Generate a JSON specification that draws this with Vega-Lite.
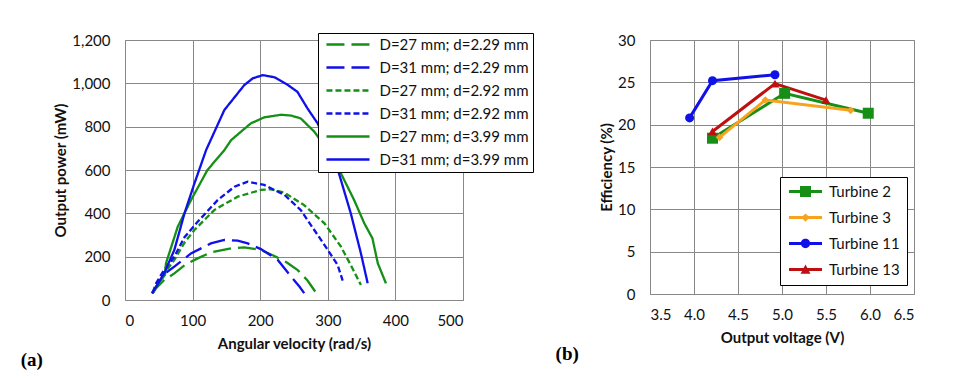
{
  "$schema": "https://vega.github.io/schema/vega-lite/v6.json",
  "padding": {"left": 20, "top": 32, "right": 5, "bottom": 5},
  "spacing": 21,
  "background": "white",
  "resolve": {"scale": {"color": "independent", "strokeDash": "independent"}, "legend": {"color": "independent", "strokeDash": "independent"}},
  "config": {
    "font": "Lato",
    "view": {"stroke": "#888", "strokeWidth": 1},
    "axis": {
      "grid": true, "gridColor": "#888", "gridOpacity": 1, "gridWidth": 1,
      "domain": false, "ticks": false,
      "labelFontSize": 15, "labelColor": "#111", "labelFont": "Lato",
      "titleFontSize": 15, "titleFontWeight": "bold", "titleColor": "#111", "titleFont": "Lato"
    },
    "axisX": {"labelPadding": 13, "titlePadding": 8},
    "axisY": {"labelPadding": 15, "titlePadding": 3}
  },
  "hconcat": [
    {
      "width": 338,
      "height": 260,
      "title": {"text": "(a)", "orient": "bottom", "anchor": "start", "font": "Liberation Serif", "fontSize": 19, "fontWeight": "bold", "color": "#000", "dx": -33, "offset": 0},
      "data": {"values": [
        {"s": "D=27 mm; d=2.29 mm", "w": 40, "p": 31},
        {"s": "D=27 mm; d=2.29 mm", "w": 43.5, "p": 46},
        {"s": "D=27 mm; d=2.29 mm", "w": 58, "p": 92},
        {"s": "D=27 mm; d=2.29 mm", "w": 73, "p": 123},
        {"s": "D=27 mm; d=2.29 mm", "w": 90, "p": 165},
        {"s": "D=27 mm; d=2.29 mm", "w": 107.5, "p": 192},
        {"s": "D=27 mm; d=2.29 mm", "w": 127, "p": 220},
        {"s": "D=27 mm; d=2.29 mm", "w": 157, "p": 238},
        {"s": "D=27 mm; d=2.29 mm", "w": 176.6, "p": 243},
        {"s": "D=27 mm; d=2.29 mm", "w": 201, "p": 231},
        {"s": "D=27 mm; d=2.29 mm", "w": 221, "p": 203},
        {"s": "D=27 mm; d=2.29 mm", "w": 240, "p": 172},
        {"s": "D=27 mm; d=2.29 mm", "w": 255.5, "p": 138},
        {"s": "D=27 mm; d=2.29 mm", "w": 270, "p": 90},
        {"s": "D=27 mm; d=2.29 mm", "w": 282.5, "p": 34},

        {"s": "D=31 mm; d=2.29 mm", "w": 41, "p": 31},
        {"s": "D=31 mm; d=2.29 mm", "w": 50, "p": 80},
        {"s": "D=31 mm; d=2.29 mm", "w": 58, "p": 120},
        {"s": "D=31 mm; d=2.29 mm", "w": 73, "p": 154},
        {"s": "D=31 mm; d=2.29 mm", "w": 97.6, "p": 215},
        {"s": "D=31 mm; d=2.29 mm", "w": 127, "p": 261},
        {"s": "D=31 mm; d=2.29 mm", "w": 147, "p": 277},
        {"s": "D=31 mm; d=2.29 mm", "w": 166.7, "p": 274},
        {"s": "D=31 mm; d=2.29 mm", "w": 181.5, "p": 261},
        {"s": "D=31 mm; d=2.29 mm", "w": 201, "p": 235},
        {"s": "D=31 mm; d=2.29 mm", "w": 226, "p": 185},
        {"s": "D=31 mm; d=2.29 mm", "w": 245.6, "p": 108},
        {"s": "D=31 mm; d=2.29 mm", "w": 258, "p": 62},
        {"s": "D=31 mm; d=2.29 mm", "w": 269, "p": 15},

        {"s": "D=27 mm; d=2.92 mm", "w": 42, "p": 35},
        {"s": "D=27 mm; d=2.92 mm", "w": 55, "p": 110},
        {"s": "D=27 mm; d=2.92 mm", "w": 73, "p": 185},
        {"s": "D=27 mm; d=2.92 mm", "w": 88, "p": 265},
        {"s": "D=27 mm; d=2.92 mm", "w": 102.7, "p": 323},
        {"s": "D=27 mm; d=2.92 mm", "w": 132, "p": 415},
        {"s": "D=27 mm; d=2.92 mm", "w": 166.7, "p": 477},
        {"s": "D=27 mm; d=2.92 mm", "w": 201, "p": 508},
        {"s": "D=27 mm; d=2.92 mm", "w": 216, "p": 511},
        {"s": "D=27 mm; d=2.92 mm", "w": 236, "p": 495},
        {"s": "D=27 mm; d=2.92 mm", "w": 265, "p": 438},
        {"s": "D=27 mm; d=2.92 mm", "w": 295, "p": 354},
        {"s": "D=27 mm; d=2.92 mm", "w": 319.5, "p": 246},
        {"s": "D=27 mm; d=2.92 mm", "w": 334, "p": 161},
        {"s": "D=27 mm; d=2.92 mm", "w": 349, "p": 69},

        {"s": "D=31 mm; d=2.92 mm", "w": 41, "p": 35},
        {"s": "D=31 mm; d=2.92 mm", "w": 46, "p": 77},
        {"s": "D=31 mm; d=2.92 mm", "w": 58, "p": 140},
        {"s": "D=31 mm; d=2.92 mm", "w": 73, "p": 200},
        {"s": "D=31 mm; d=2.92 mm", "w": 88, "p": 290},
        {"s": "D=31 mm; d=2.92 mm", "w": 107.5, "p": 361},
        {"s": "D=31 mm; d=2.92 mm", "w": 137, "p": 461},
        {"s": "D=31 mm; d=2.92 mm", "w": 162, "p": 523},
        {"s": "D=31 mm; d=2.92 mm", "w": 181.5, "p": 546},
        {"s": "D=31 mm; d=2.92 mm", "w": 206, "p": 531},
        {"s": "D=31 mm; d=2.92 mm", "w": 236, "p": 485},
        {"s": "D=31 mm; d=2.92 mm", "w": 260, "p": 415},
        {"s": "D=31 mm; d=2.92 mm", "w": 280, "p": 323},
        {"s": "D=31 mm; d=2.92 mm", "w": 300, "p": 231},
        {"s": "D=31 mm; d=2.92 mm", "w": 314.6, "p": 161},
        {"s": "D=31 mm; d=2.92 mm", "w": 322, "p": 89},

        {"s": "D=27 mm; d=3.99 mm", "w": 40, "p": 31},
        {"s": "D=27 mm; d=3.99 mm", "w": 50, "p": 80},
        {"s": "D=27 mm; d=3.99 mm", "w": 59, "p": 115},
        {"s": "D=27 mm; d=3.99 mm", "w": 60.6, "p": 169},
        {"s": "D=27 mm; d=3.99 mm", "w": 78, "p": 338},
        {"s": "D=27 mm; d=3.99 mm", "w": 97.6, "p": 461},
        {"s": "D=27 mm; d=3.99 mm", "w": 122, "p": 600},
        {"s": "D=27 mm; d=3.99 mm", "w": 147, "p": 692},
        {"s": "D=27 mm; d=3.99 mm", "w": 157, "p": 738},
        {"s": "D=27 mm; d=3.99 mm", "w": 186, "p": 815},
        {"s": "D=27 mm; d=3.99 mm", "w": 206, "p": 843},
        {"s": "D=27 mm; d=3.99 mm", "w": 231, "p": 855},
        {"s": "D=27 mm; d=3.99 mm", "w": 246, "p": 851},
        {"s": "D=27 mm; d=3.99 mm", "w": 260, "p": 838},
        {"s": "D=27 mm; d=3.99 mm", "w": 280, "p": 777},
        {"s": "D=27 mm; d=3.99 mm", "w": 300, "p": 690},
        {"s": "D=27 mm; d=3.99 mm", "w": 319.5, "p": 584},
        {"s": "D=27 mm; d=3.99 mm", "w": 339, "p": 461},
        {"s": "D=27 mm; d=3.99 mm", "w": 354, "p": 354},
        {"s": "D=27 mm; d=3.99 mm", "w": 366, "p": 285},
        {"s": "D=27 mm; d=3.99 mm", "w": 374, "p": 169},
        {"s": "D=27 mm; d=3.99 mm", "w": 386, "p": 77},

        {"s": "D=31 mm; d=3.99 mm", "w": 40, "p": 31},
        {"s": "D=31 mm; d=3.99 mm", "w": 58, "p": 123},
        {"s": "D=31 mm; d=3.99 mm", "w": 73, "p": 231},
        {"s": "D=31 mm; d=3.99 mm", "w": 88, "p": 400},
        {"s": "D=31 mm; d=3.99 mm", "w": 102.7, "p": 538},
        {"s": "D=31 mm; d=3.99 mm", "w": 120, "p": 692},
        {"s": "D=31 mm; d=3.99 mm", "w": 147, "p": 877},
        {"s": "D=31 mm; d=3.99 mm", "w": 176.5, "p": 992},
        {"s": "D=31 mm; d=3.99 mm", "w": 189, "p": 1023},
        {"s": "D=31 mm; d=3.99 mm", "w": 204, "p": 1038},
        {"s": "D=31 mm; d=3.99 mm", "w": 221, "p": 1028},
        {"s": "D=31 mm; d=3.99 mm", "w": 241, "p": 992},
        {"s": "D=31 mm; d=3.99 mm", "w": 255, "p": 961},
        {"s": "D=31 mm; d=3.99 mm", "w": 270, "p": 884},
        {"s": "D=31 mm; d=3.99 mm", "w": 285, "p": 815},
        {"s": "D=31 mm; d=3.99 mm", "w": 300, "p": 715},
        {"s": "D=31 mm; d=3.99 mm", "w": 315, "p": 600},
        {"s": "D=31 mm; d=3.99 mm", "w": 334, "p": 400},
        {"s": "D=31 mm; d=3.99 mm", "w": 349, "p": 215},
        {"s": "D=31 mm; d=3.99 mm", "w": 359, "p": 77}
      ]},
      "mark": {"type": "line", "strokeWidth": 2.3},
      "encoding": {
        "x": {"field": "w", "type": "quantitative", "scale": {"domain": [0, 500], "nice": false},
              "axis": {"values": [0, 100, 200, 300, 400, 500], "title": "Angular velocity (rad/s)"}},
        "y": {"field": "p", "type": "quantitative", "scale": {"domain": [0, 1200], "nice": false},
              "axis": {"values": [0, 200, 400, 600, 800, 1000, 1200], "format": ",.0f", "title": "Output power (mW)"}},
        "color": {"field": "s", "type": "nominal",
          "scale": {"domain": ["D=27 mm; d=2.29 mm", "D=31 mm; d=2.29 mm", "D=27 mm; d=2.92 mm", "D=31 mm; d=2.92 mm", "D=27 mm; d=3.99 mm", "D=31 mm; d=3.99 mm"],
                    "range": ["#158F15", "#1010E8", "#158F15", "#1010E8", "#158F15", "#1010E8"]},
          "legend": {"orient": "none", "legendX": 193, "legendY": -7, "title": null,
                     "strokeColor": "#000", "fillColor": "#fff", "padding": 4,
                     "symbolType": "M-4,0H4", "symbolSize": 116, "symbolStrokeWidth": 2.5, "symbolOffset": 18.5,
                     "labelFontSize": 15, "labelFont": "Lato", "labelColor": "#111", "labelOffset": 24, "rowPadding": 7, "labelLimit": 300}},
        "strokeDash": {"field": "s", "type": "nominal",
          "scale": {"domain": ["D=27 mm; d=2.29 mm", "D=31 mm; d=2.29 mm", "D=27 mm; d=2.92 mm", "D=31 mm; d=2.92 mm", "D=27 mm; d=3.99 mm", "D=31 mm; d=3.99 mm"],
                    "range": [[18, 7], [18, 7], [6, 3], [6, 3], [1, 0], [1, 0]]},
          "legend": {"orient": "none", "legendX": 193, "legendY": -7, "title": null,
                     "strokeColor": "#000", "fillColor": "#fff", "padding": 4,
                     "symbolType": "M-4,0H4", "symbolSize": 116, "symbolStrokeWidth": 2.5, "symbolOffset": 18.5,
                     "labelFontSize": 15, "labelFont": "Lato", "labelColor": "#111", "labelOffset": 24, "rowPadding": 7, "labelLimit": 300}}
      }
    },
    {
      "width": 264,
      "height": 254,
      "title": {"text": "(b)", "orient": "bottom", "anchor": "start", "font": "Liberation Serif", "fontSize": 19, "fontWeight": "bold", "color": "#000", "dx": -44, "offset": 0},
      "data": {"values": [
        {"s": "Turbine 2", "v": 4.21, "e": 18.4},
        {"s": "Turbine 2", "v": 5.03, "e": 23.7},
        {"s": "Turbine 2", "v": 5.98, "e": 21.35},
        {"s": "Turbine 3", "v": 4.29, "e": 18.5},
        {"s": "Turbine 3", "v": 4.81, "e": 22.9},
        {"s": "Turbine 3", "v": 5.78, "e": 21.7},
        {"s": "Turbine 11", "v": 3.95, "e": 20.8},
        {"s": "Turbine 11", "v": 4.21, "e": 25.2},
        {"s": "Turbine 11", "v": 4.92, "e": 25.9},
        {"s": "Turbine 13", "v": 4.21, "e": 19.2},
        {"s": "Turbine 13", "v": 4.92, "e": 24.85},
        {"s": "Turbine 13", "v": 5.5, "e": 22.9}
      ]},
      "encoding": {
        "x": {"field": "v", "type": "quantitative", "scale": {"domain": [3.5, 6.5], "nice": false, "zero": false},
              "axis": {"values": [3.5, 4, 4.5, 5, 5.5, 6, 6.5], "format": ".1f", "title": "Output voltage (V)"}},
        "y": {"field": "e", "type": "quantitative", "scale": {"domain": [0, 30], "nice": false},
              "axis": {"values": [0, 5, 10, 15, 20, 25, 30], "title": "Efficiency (%)"}}
      },
      "layer": [
        {
          "mark": {"type": "line", "strokeWidth": 3},
          "encoding": {
            "color": {"field": "s", "type": "nominal",
              "scale": {"domain": ["Turbine 2", "Turbine 3", "Turbine 11", "Turbine 13"], "range": ["#158F15", "#F8A31F", "#1010E8", "#BE1010"]},
              "legend": {"orient": "none", "legendX": 130, "legendY": 137, "title": null,
                         "strokeColor": "#000", "fillColor": "#fff", "padding": 7,
                         "symbolSize": 121, "symbolOffset": 11, "labelFontSize": 15, "labelFont": "Lato", "labelColor": "#111", "labelOffset": 16, "rowPadding": 10,
                         "encode": {"symbols": {"update": {
                           "shape": {"signal": "datum.value === 'Turbine 2' ? 'M-3,-0.27H3V0.27H-3Z M-1,-1H1V1H-1Z' : datum.value === 'Turbine 3' ? 'M-3,-0.27H3V0.27H-3Z M0,-0.75L0.75,0L0,0.75L-0.75,0Z' : datum.value === 'Turbine 11' ? 'M-3,-0.27H3V0.27H-3Z M0.85,0A0.85,0.85,0,1,1,-0.85,0A0.85,0.85,0,1,1,0.85,0Z' : 'M-3,-0.27H3V0.27H-3Z M0,-0.9L0.9,0.75H-0.9Z'"},
                           "fill": {"signal": "datum.value === 'Turbine 2' ? '#158F15' : datum.value === 'Turbine 3' ? '#F8A31F' : datum.value === 'Turbine 11' ? '#1010E8' : '#BE1010'"},
                           "fillOpacity": {"value": 1},
                           "strokeWidth": {"value": 0}
                         }}}}
            }
          }
        },
        {
          "transform": [{"filter": "datum.s === 'Turbine 2'"}],
          "mark": {"type": "point", "filled": true, "opacity": 1, "shape": "square", "size": 121, "color": "#158F15"}
        },
        {
          "transform": [{"filter": "datum.s === 'Turbine 3'"}],
          "mark": {"type": "point", "filled": true, "opacity": 1, "shape": "diamond", "size": 60, "color": "#F8A31F"}
        },
        {
          "transform": [{"filter": "datum.s === 'Turbine 11'"}],
          "mark": {"type": "point", "filled": true, "opacity": 1, "shape": "circle", "size": 81, "color": "#1010E8"}
        },
        {
          "transform": [{"filter": "datum.s === 'Turbine 13'"}],
          "mark": {"type": "point", "filled": true, "opacity": 1, "shape": "triangle-up", "size": 81, "color": "#BE1010"}
        }
      ]
    }
  ]
}
